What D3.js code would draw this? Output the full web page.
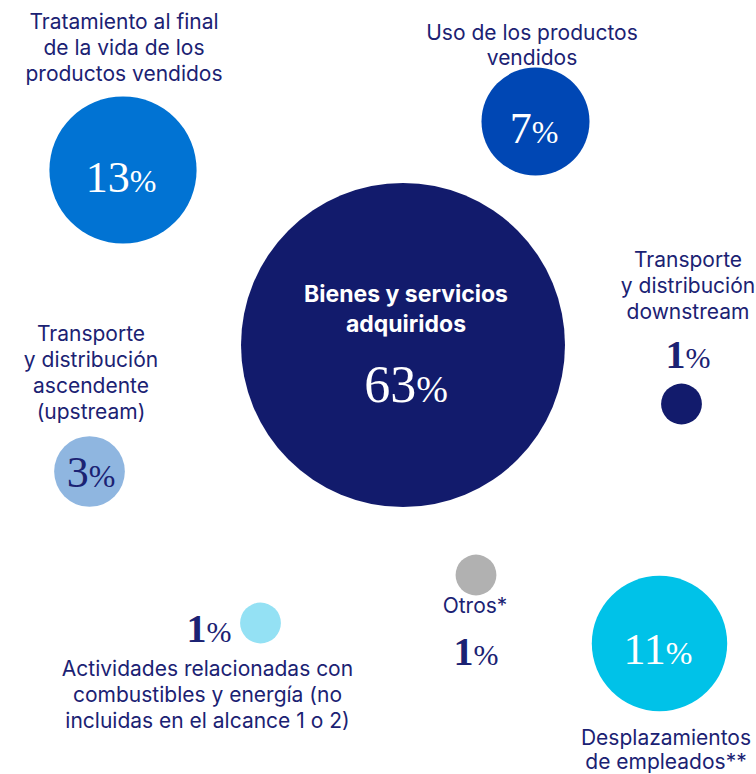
<!DOCTYPE html>
<html><head><meta charset="utf-8">
<script src="https://cdn.jsdelivr.net/npm/d3@7"></script>
<style>body{margin:0;background:#fff}svg{display:block}</style>
</head><body>
<svg id="chart" width="756" height="774"></svg>
<script>
// ---- data ----
const categories = [
  ["Bienes y servicios", "adquiridos"],
  ["Tratamiento al final", "de la vida de los", "productos vendidos"],
  ["Desplazamientos", "de empleados**"],
  ["Uso de los productos", "vendidos"],
  ["Transporte", "y distribución", "ascendente", "(upstream)"],
  ["Transporte", "y distribución", "downstream"],
  ["Actividades relacionadas con", "combustibles y energía (no", "incluidas en el alcance 1 o 2)"],
  ["Otros*"]
];
const values = [63, 13, 11, 7, 3, 1, 1, 1];

// ---- styles & layout ----
const fills = ["#121b6c", "#0173d3", "#00c2e8", "#0047b4", "#8fb6e0", "#121b6c", "#94e1f4", "#b1b1b1"];
const NAVY = "#1b2273";
const layout = [
  {cx: 403, cy: 345, lx: 406, ly: [302, 332], vx: 406, vy: 402, vs: 52, ps: 38, lc: "#fff", vc: "#fff", bold: true},
  {cx: 123, cy: 170, lx: 124, ly: [29, 55, 81], vx: 121, vy: 192, vs: 44, ps: 32, lc: NAVY, vc: "#fff"},
  {cx: 659.5, cy: 643.5, lx: 666, ly: [745, 769], vx: 658, vy: 664, vs: 44, ps: 32, lc: NAVY, vc: "#fff"},
  {cx: 535.5, cy: 121.5, lx: 532, ly: [40, 65], vx: 534, vy: 143, vs: 44, ps: 32, lc: NAVY, vc: "#fff"},
  {cx: 89.5, cy: 471.5, lx: 91, ly: [341, 367, 393, 419], vx: 91, vy: 487, vs: 44, ps: 32, lc: NAVY, vc: NAVY},
  {cx: 681.5, cy: 404, lx: 688, ly: [267, 293, 319], vx: 688, vy: 368, vs: 40, ps: 30, lc: NAVY, vc: NAVY, heavy: true},
  {cx: 260.5, cy: 623, lx: 207.5, ly: [676, 702, 728], vx: 209, vy: 642, vs: 40, ps: 30, lc: NAVY, vc: NAVY, heavy: true},
  {cx: 476, cy: 575, lx: 475, ly: [613], vx: 476, vy: 665, vs: 40, ps: 30, lc: NAVY, vc: NAVY, heavy: true}
];

const svg = d3.select("#chart");
const r = d3.scaleSqrt().domain([0, d3.max(values)]).range([0, 162]);

const data = values.map((v, i) => ({v, lines: categories[i], fill: fills[i], ...layout[i]}));

svg.selectAll("circle.bubble").data(data).join("circle")
  .attr("class", "bubble")
  .attr("cx", d => d.cx).attr("cy", d => d.cy)
  .attr("r", d => r(d.v))
  .attr("fill", d => d.fill);

// category labels
const labels = svg.selectAll("text.label").data(data).join("text")
  .attr("class", "label")
  .attr("text-anchor", "middle")
  .attr("font-family", "Inter, 'Noto Sans', sans-serif")
  .attr("font-size", d => d.bold ? 23 : 21)
  .attr("font-weight", d => d.bold ? 700 : 400)
  .attr("fill", d => d.lc);
labels.selectAll("tspan").data(d => d.lines.map((t, j) => ({t, x: d.lx, y: d.ly[j]}))).join("tspan")
  .attr("x", d => d.x).attr("y", d => d.y).text(d => d.t);

// value labels
const vals = svg.selectAll("text.value").data(data).join("text")
  .attr("class", "value")
  .attr("text-anchor", "middle")
  .attr("x", d => d.vx).attr("y", d => d.vy)
  .attr("font-family", "'Liberation Serif', 'DejaVu Serif', serif")
  .attr("fill", d => d.vc);
vals.append("tspan").attr("font-size", d => d.vs)
  .attr("font-weight", d => d.heavy ? 700 : 400)
  .text(d => d3.format("d")(d.v));
vals.append("tspan").attr("font-size", d => d.ps).text("%");
</script>
</body></html>
